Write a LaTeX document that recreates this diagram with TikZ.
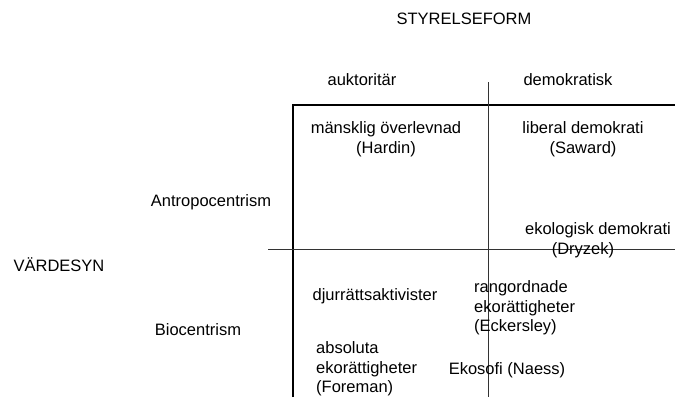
\documentclass[tikz,border=0pt]{standalone}
\usepackage{fontspec}
\setmainfont{Liberation Sans}

\begin{document}
\begin{tikzpicture}[x=1pt,y=1pt]
\tikzstyle{every node}+=[inner sep=0pt,font=\fontsize{16.5}{19.5}\selectfont]
\tikzstyle{cell}=[align=center]
\tikzstyle{cellleft}=[align=left,anchor=west]
\useasboundingbox (0,0) rectangle (675,-397);
% axes of the table
\draw [black,line width=1.8pt] (293,-397) -- (293,-105) -- (675,-105);
\draw [black!80,line width=0.7pt] (488,-82) -- (488,-397);
\draw [black!80,line width=0.7pt] (268,-249) -- (675,-249);
% headings
\node (styrelseform) at (464,-19) {STYRELSEFORM};
\node (vardesyn) at (59,-265) {VÄRDESYN};
\node (auktoritar) at (362,-80) {auktoritär};
\node (demokratisk) at (568,-80) {demokratisk};
\node (antropo) at (211,-202) {Antropocentrism};
\node (bio) at (198,-330) {Biocentrism};
% cells
\node [cell] (hardin) at (386,-139) {mänsklig överlevnad\\(Hardin)};
\node [cell] (saward) at (583,-139) {liberal demokrati\\(Saward)};
\node [cell] (dryzek) at (598,-240) {ekologisk demokrati\\(Dryzek)\hspace*{30pt}};
\node (djur) at (375,-296) {djurrättsaktivister};
\node [cellleft] (eckersley) at (474,-308) {rangordnade\\ekorättigheter\\(Eckersley)};
\node [cellleft] (foreman) at (316,-369) {absoluta\\ekorättigheter\\(Foreman)};
\node (naess) at (507,-370) {Ekosofi (Naess)};
\end{tikzpicture}
\end{document}
